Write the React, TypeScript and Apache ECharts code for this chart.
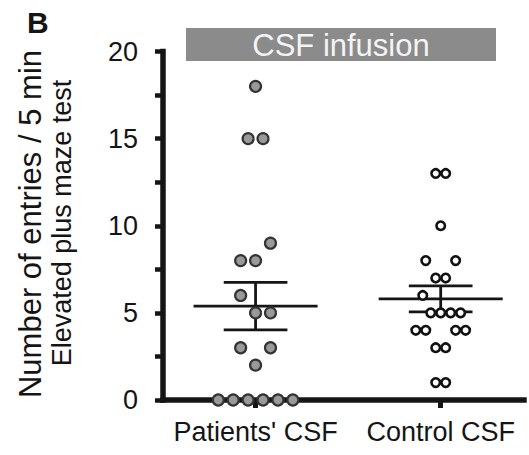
import React, { useEffect, useRef } from "react";
import * as echarts from "echarts";

// Elevated plus maze: entries per 5 min after CSF infusion
const groupNames = ["Patients' CSF", "Control CSF"];
const groupCenters = [1, 2];

const patientsValues = [18, 15, 15, 9, 8, 8, 6, 5, 5, 3, 3, 2, 0, 0, 0, 0, 0, 0];
// horizontal slot of each dot in the swarm (in dot widths)
const patientsSlots = [0, -0.5, 0.5, 1, -1, 0, -1, 0, 1, -1, 1, 0, -2.5, -1.5, -0.5, 0.5, 1.5, 2.5];

const controlValues = [13, 13, 10, 8, 8, 7, 7, 6, 5, 5, 5, 5, 4, 4, 4, 4, 3, 3, 1, 1];
const controlSlots = [-0.5, 0.5, 0, -1.5, 1.5, -0.5, 0.5, -1.8, -1, 0, 1, 2, -2.5, -1.5, 1.5, 2.5, -0.5, 0.5, -0.5, 0.5];

const yTicks = [0, 5, 10, 15, 20];

const FONT = "'Liberation Sans', Arial, Helvetica, sans-serif";
const INK = "#151515";

function meanSem(vals: number[]) {
  const n = vals.length;
  const m = vals.reduce((a, b) => a + b, 0) / n;
  const v = vals.reduce((a, b) => a + (b - m) * (b - m), 0) / (n - 1);
  return [m, Math.sqrt(v) / Math.sqrt(n)];
}

export default function App() {
  const ref = useRef<HTMLDivElement>(null);

  useEffect(() => {
    if (!ref.current) return;
    const chart = echarts.init(ref.current, undefined, { renderer: "svg" });

    const pStep = 0.0806;
    const cStep = 0.0538;
    const patientsPts = patientsValues.map((v, i) => [groupCenters[0] + patientsSlots[i] * pStep, v]);
    const controlPts = controlValues.map((v, i) => [groupCenters[1] + controlSlots[i] * cStep, v]);

    const [pm, ps] = meanSem(patientsValues);
    const [cm, cs] = meanSem(controlValues);
    const barData = [
      [groupCenters[0], pm, ps],
      [groupCenters[1], cm, cs],
    ];
    const meanHalf = 0.335;
    const capHalf = 0.172;

    chart.setOption({
      animation: false,
      grid: { left: 163, right: 5, top: 51.5, bottom: 55 },
      xAxis: {
        type: "value",
        min: 0.5,
        max: 2.45,
        splitLine: { show: false },
        axisLine: { show: true, onZero: false, lineStyle: { color: INK, width: 5.5, cap: "square" } },
        axisTick: {
          show: true,
          customValues: groupCenters,
          length: 8,
          lineStyle: { color: INK, width: 5 },
        },
        axisLabel: {
          customValues: groupCenters,
          margin: 18,
          color: INK,
          fontSize: 27,
          fontFamily: FONT,
          formatter: (v: number) => groupNames[groupCenters.indexOf(Math.round(v))] ?? "",
        },
      },
      yAxis: {
        type: "value",
        min: 0,
        max: 20,
        interval: 2.5,
        splitLine: { show: false },
        axisLine: { show: true, lineStyle: { color: INK, width: 5.5, cap: "square" } },
        axisTick: { show: true, length: 8, lineStyle: { color: INK, width: 4.5 } },
        axisLabel: {
          margin: 25,
          color: INK,
          fontSize: 27,
          fontFamily: FONT,
          formatter: (v: number) => (yTicks.includes(v) ? String(v) : ""),
        },
      },
      graphic: [
        {
          type: "text",
          left: 27,
          top: 7,
          style: { text: "B", font: `bold 30px ${FONT}`, fill: INK },
        },
        {
          type: "rect",
          shape: { x: 186, y: 28, width: 310, height: 33 },
          style: { fill: "#8b8b8b" },
        },
        {
          type: "text",
          x: 341,
          y: 45,
          style: {
            text: "CSF infusion",
            font: `31px ${FONT}`,
            fill: "#f4f4f4",
            align: "center",
            verticalAlign: "middle",
            textAlign: "center",
            textVerticalAlign: "middle",
          },
        },
        {
          type: "text",
          x: 30,
          y: 224,
          rotation: Math.PI / 2,
          style: {
            text: "Number of entries / 5 min",
            font: `31px ${FONT}`,
            fill: INK,
            align: "center",
            verticalAlign: "middle",
            textAlign: "center",
            textVerticalAlign: "middle",
          },
        },
        {
          type: "text",
          x: 62,
          y: 223,
          rotation: Math.PI / 2,
          style: {
            text: "Elevated plus maze test",
            font: `27px ${FONT}`,
            fill: INK,
            align: "center",
            verticalAlign: "middle",
            textAlign: "center",
            textVerticalAlign: "middle",
          },
        },
      ],
      series: [
        {
          type: "custom",
          z: 3,
          data: barData,
          renderItem: (_params: any, api: any) => {
            const x = api.value(0);
            const m = api.value(1);
            const s = api.value(2);
            const seg = (a: number[], b: number[]) => {
              const p1 = api.coord(a);
              const p2 = api.coord(b);
              return {
                type: "line",
                shape: { x1: p1[0], y1: p1[1], x2: p2[0], y2: p2[1] },
                style: { stroke: INK, lineWidth: 2.8 },
              };
            };
            return {
              type: "group",
              children: [
                seg([x - meanHalf, m], [x + meanHalf, m]),
                seg([x, m - s], [x, m + s]),
                seg([x - capHalf, m + s], [x + capHalf, m + s]),
                seg([x - capHalf, m - s], [x + capHalf, m - s]),
              ],
            };
          },
        },
        {
          type: "scatter",
          name: groupNames[0],
          z: 4,
          data: patientsPts,
          symbol: "circle",
          symbolSize: 11,
          itemStyle: { color: "#999999", borderColor: "#333333", borderWidth: 2.2, opacity: 1 },
        },
        {
          type: "scatter",
          name: groupNames[1],
          z: 4,
          data: controlPts,
          symbol: "circle",
          symbolSize: 8.5,
          itemStyle: { color: "#ffffff", borderColor: "#111111", borderWidth: 2.6, opacity: 1 },
        },
      ],
    });

    return () => chart.dispose();
  }, []);

  return (
    <div
      ref={ref}
      style={{ position: "absolute", left: 0, top: 0, width: 529, height: 455, background: "#fff" }}
    />
  );
}
